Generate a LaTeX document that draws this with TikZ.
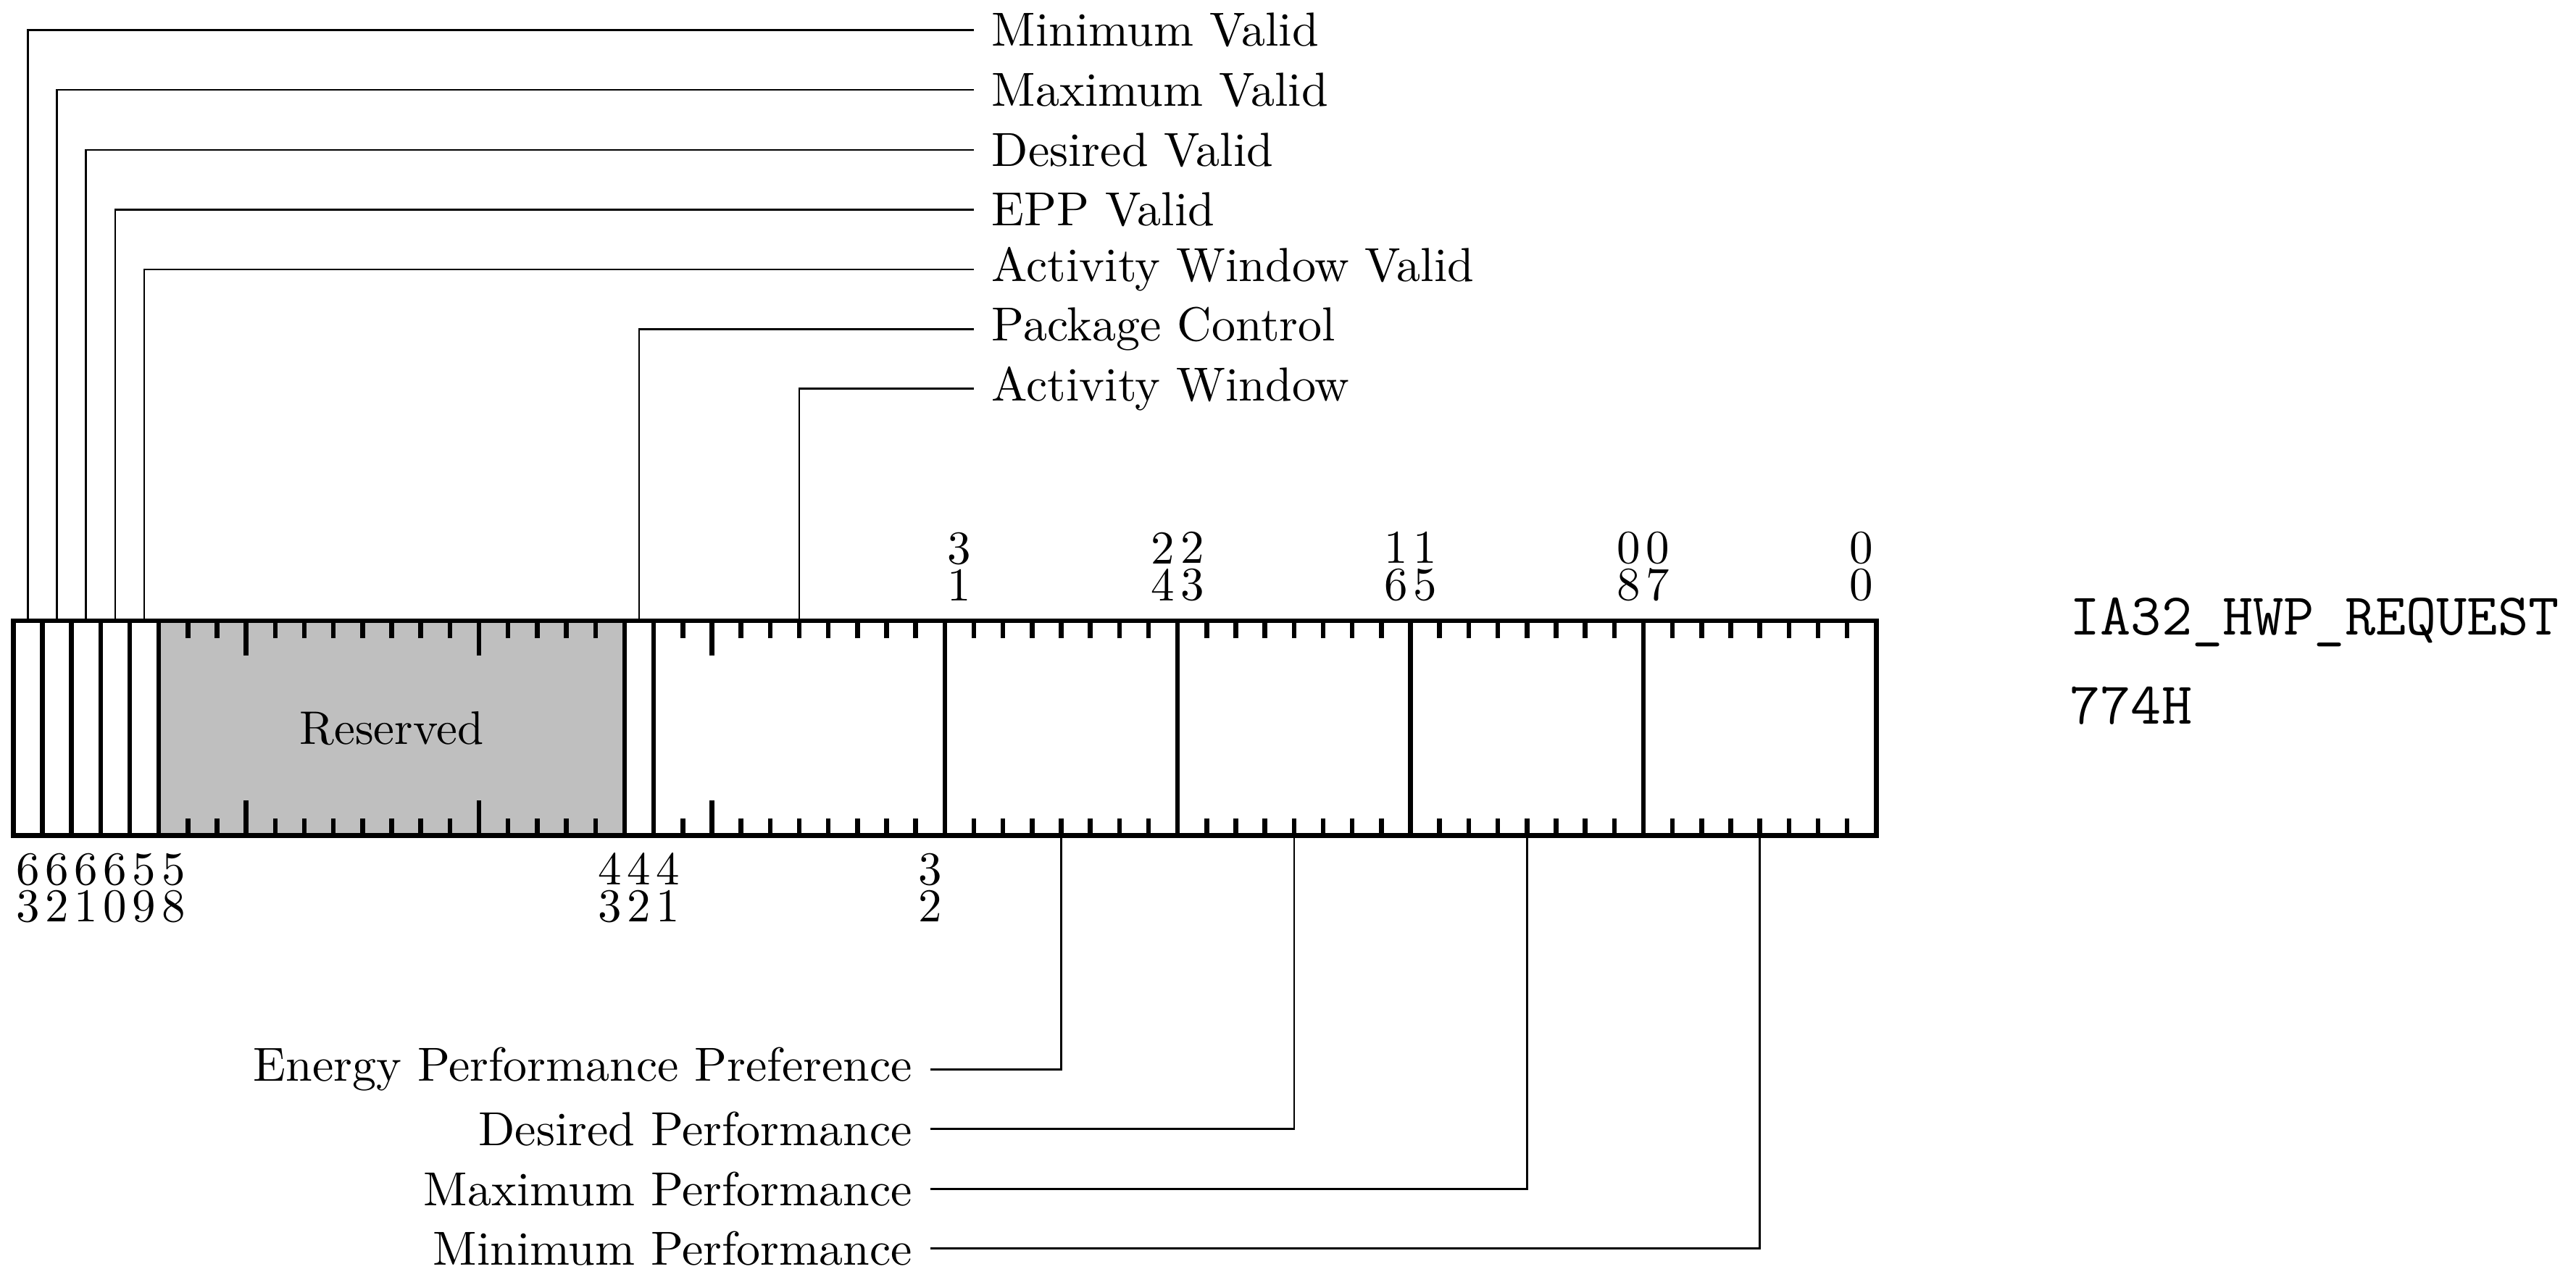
\documentclass[tikz,border=0pt]{standalone}
\usepackage{tikz}
\tikzset{every picture/.style={line width=1pt}}
\tikzset{
  wire/.style={line width=0.4pt},
  fieldname/.style={inner sep=3.33pt,font=\fontsize{10.15pt}{12pt}\selectfont},
  bitnum/.style={align=center,inner sep=0pt,font=\fontsize{10pt}{7.85pt}\selectfont},
  regname/.style={anchor=base west,inner sep=0pt,font=\fontsize{12.6pt}{15pt}\selectfont\ttfamily}
}
\begin{document}
\begin{tikzpicture}[x=6.18pt,y=6.18pt]
	\useasboundingbox (-0.456,-15.15) rectangle (88.04,28.72);
	% register body
	\fill[lightgray] (5,0) rectangle (21,7.38);
	\node (res) at (13,3.69) {Reserved};
	\draw (0,0) rectangle (64,7.38);
	\foreach \x in {1,2,3,4,5,21,22,32,40,48,56}
		\draw (\x,0) -- (\x,7.38);
	% bit ticks, longer ones at byte boundaries
	\foreach \x in {6,7,9,10,...,15,17,18,19,20,23,25,26,...,31,33,34,...,39,41,42,...,47,49,50,...,55,57,58,...,63} {
		\draw (\x,0) -- (\x,0.6);
		\draw (\x,7.38) -- (\x,6.78);
	}
	\foreach \x in {8,16,24} {
		\draw (\x,0) -- (\x,1.2);
		\draw (\x,7.38) -- (\x,6.18);
	}
	% bit numbers
	\foreach \b in {31,24,23,16,15,8,7,0} {
		\pgfmathtruncatemacro{\tens}{\b/10}
		\pgfmathtruncatemacro{\units}{mod(\b,10)}
		\node[bitnum,anchor=south] (t\b) at ({63.5-\b},7.99) {\tens\\\units};
	}
	\foreach \b in {63,62,61,60,59,58,43,42,41,32} {
		\pgfmathtruncatemacro{\tens}{\b/10}
		\pgfmathtruncatemacro{\units}{mod(\b,10)}
		\node[bitnum,anchor=north] (u\b) at ({63.5-\b},-0.52) {\tens\\\units};
	}
	% field taps
	\coordinate (b63) at (0.5,7.38);
	\coordinate (b62) at (1.5,7.38);
	\coordinate (b61) at (2.5,7.38);
	\coordinate (b60) at (3.5,7.38);
	\coordinate (b59) at (4.5,7.38);
	\coordinate (b42) at (21.5,7.38);
	\coordinate (b41) at (27,7.38);
	\coordinate (b31) at (36,0);
	\coordinate (b23) at (44,0);
	\coordinate (b15) at (52,0);
	\coordinate (b7) at (60,0);
	% names above
	\node[fieldname,anchor=west] (minv) at (33,27.68) {Minimum Valid};
	\node[fieldname,anchor=west] (maxv) at (33,25.63) {Maximum Valid};
	\node[fieldname,anchor=west] (desv) at (33,23.57) {Desired Valid};
	\node[fieldname,anchor=west] (eppv) at (33,21.52) {EPP Valid};
	\node[fieldname,anchor=west] (awv) at (33,19.46) {Activity Window Valid};
	\node[fieldname,anchor=west] (pkg) at (33,17.41) {Package Control};
	\node[fieldname,anchor=west] (aw) at (33,15.36) {Activity Window};
	\draw[wire] (b63) |- (minv.west);
	\draw[wire] (b62) |- (maxv.west);
	\draw[wire] (b61) |- (desv.west);
	\draw[wire] (b60) |- (eppv.west);
	\draw[wire] (b59) |- (awv.west);
	\draw[wire] (b42) |- (pkg.west);
	\draw[wire] (b41) |- (aw.west);
	% names below
	\node[fieldname,anchor=east] (epp) at (31.5,-8.03) {Energy Performance Preference};
	\node[fieldname,anchor=east] (des) at (31.5,-10.08) {Desired Performance};
	\node[fieldname,anchor=east] (maxp) at (31.5,-12.14) {Maximum Performance};
	\node[fieldname,anchor=east] (minp) at (31.5,-14.19) {Minimum Performance};
	\draw[wire] (b31) |- (epp.east);
	\draw[wire] (b23) |- (des.east);
	\draw[wire] (b15) |- (maxp.east);
	\draw[wire] (b7) |- (minp.east);
	% register name
	\node[regname] (msr) at (70.57,6.9) {IA32\_HWP\_REQUEST};
	\node[regname] (addr) at (70.57,3.83) {774H};
\end{tikzpicture}
\end{document}
